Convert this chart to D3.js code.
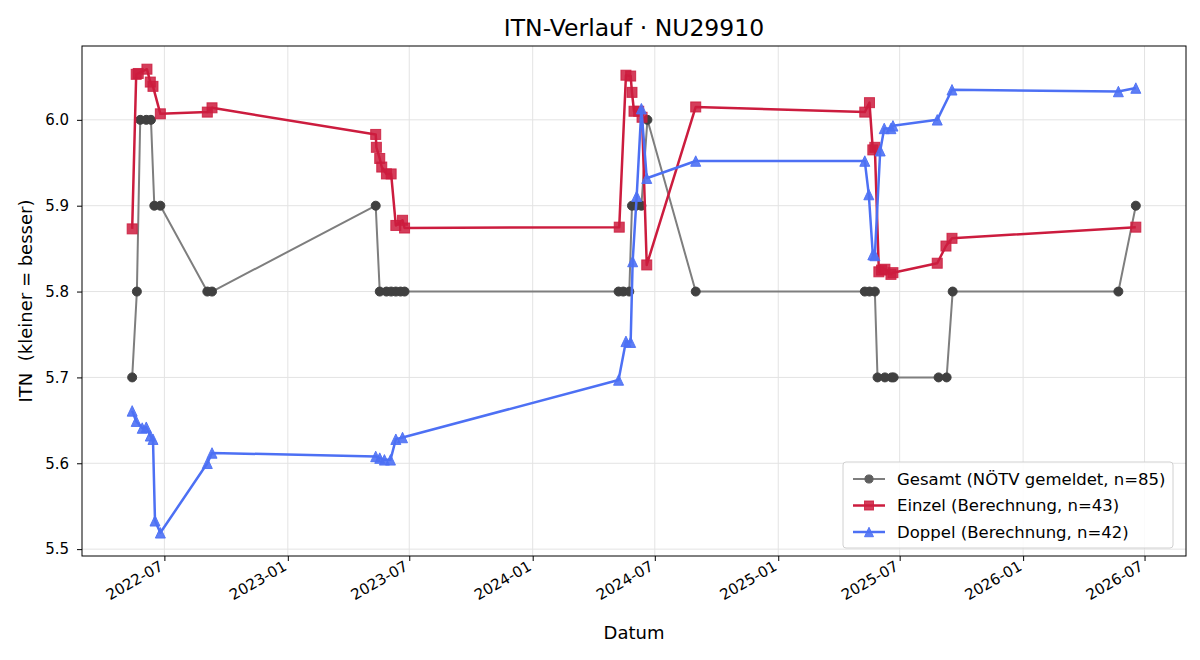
<!DOCTYPE html>
<html>
<head>
<meta charset="utf-8">
<script src="https://cdn.jsdelivr.net/npm/d3@7"></script>
<style>
  body { margin: 0; background: #fff; }
  svg, svg text { font-family: "DejaVu Sans", sans-serif; }
</style>
</head>
<body>
<div id="chart"></div>
<script>
// Data
const gesamtDates = ["2022-05-14","2022-05-21","2022-05-26","2022-06-04","2022-06-11","2022-06-16","2022-06-25",
  "2022-09-03","2022-09-10","2023-05-12","2023-05-18","2023-05-28","2023-06-04","2023-06-11","2023-06-18","2023-06-24",
  "2024-05-08","2024-05-15","2024-05-24","2024-05-28","2024-06-03","2024-06-11","2024-06-20","2024-08-31",
  "2025-05-10","2025-05-17","2025-05-25","2025-05-29","2025-06-09","2025-06-19","2025-06-22","2025-08-28",
  "2025-09-09","2025-09-18","2026-05-23","2026-06-18"];
const gesamtValues = [5.7,5.8,6.0,6.0,6.0,5.9,5.9,
  5.8,5.8,5.9,5.8,5.8,5.8,5.8,5.8,5.8,
  5.8,5.8,5.8,5.9,5.9,5.9,6.0,5.8,
  5.8,5.8,5.8,5.7,5.7,5.7,5.7,5.7,
  5.7,5.8,5.8,5.9];

const einzelDates = ["2022-05-14","2022-05-20","2022-05-23","2022-06-05","2022-06-10","2022-06-14","2022-06-25",
  "2022-09-03","2022-09-10","2023-05-12","2023-05-13","2023-05-18","2023-05-21","2023-05-28","2023-06-04",
  "2023-06-11","2023-06-21","2023-06-24","2024-05-09","2024-05-19","2024-05-26","2024-05-28","2024-05-31",
  "2024-06-07","2024-06-12","2024-06-19","2024-08-31","2025-05-10","2025-05-17","2025-05-22","2025-05-25",
  "2025-05-31","2025-06-04","2025-06-09","2025-06-18","2025-06-21","2025-08-26","2025-09-08","2025-09-17",
  "2026-06-18"];
const einzelValues = [5.873,6.053,6.054,6.059,6.044,6.039,6.007,
  6.009,6.014,5.983,5.968,5.955,5.945,5.937,5.937,
  5.877,5.883,5.874,5.875,6.052,6.051,6.032,6.010,
  6.010,6.003,5.831,6.015,6.009,6.020,5.965,5.968,
  5.823,5.825,5.826,5.820,5.822,5.833,5.853,5.862,
  5.875];

const doppelDates = ["2022-05-14","2022-05-20","2022-05-29","2022-06-04","2022-06-10","2022-06-14","2022-06-17",
  "2022-06-25","2022-09-03","2022-09-10","2023-05-12","2023-05-18","2023-05-25","2023-06-03","2023-06-11",
  "2023-06-21","2024-05-08","2024-05-19","2024-05-26","2024-05-29","2024-06-04","2024-06-11","2024-06-19",
  "2024-08-31","2025-05-10","2025-05-16","2025-05-22","2025-05-25","2025-06-02","2025-06-08","2025-06-18",
  "2025-06-21","2025-08-26","2025-09-17","2026-05-23","2026-06-18"];
const doppelValues = [5.661,5.649,5.641,5.642,5.632,5.628,5.533,
  5.519,5.600,5.612,5.608,5.606,5.604,5.604,5.628,
  5.630,5.697,5.742,5.741,5.835,5.911,6.013,5.932,
  5.952,5.952,5.913,5.843,5.842,5.964,5.990,5.990,
  5.993,6.000,6.035,6.033,6.037];

const seriesNames = ["Gesamt (NÖTV gemeldet, n=85)", "Einzel (Berechnung, n=43)", "Doppel (Berechnung, n=42)"];
const yTicks = [5.5, 5.6, 5.7, 5.8, 5.9, 6.0];
const xTickDates = ["2022-07-01","2023-01-01","2023-07-01","2024-01-01","2024-07-01","2025-01-01","2025-07-01","2026-01-01","2026-07-01"];

const W = 1200, H = 660;
const margin = {top: 46, right: 14, bottom: 104, left: 82};
const width = W - margin.left - margin.right;
const height = H - margin.top - margin.bottom;

const parse = d3.timeParse("%Y-%m-%d");
const zip = (ds, vs) => ds.map((d, i) => ({date: parse(d), value: vs[i]}));

const series = [
  {name: seriesNames[0], data: zip(gesamtDates, gesamtValues), line: "#7e7e7e", mark: "#404040", legMark: "#5e5e5e", lw: 2, shape: "circle", opacity: 1},
  {name: seriesNames[1], data: zip(einzelDates, einzelValues), line: "#cc1c3e", mark: "#cc1c3e", legMark: "#cc1c3e", lw: 2.5, shape: "square", opacity: 0.85},
  {name: seriesNames[2], data: zip(doppelDates, doppelValues), line: "#4d70f4", mark: "#4d70f4", legMark: "#4d70f4", lw: 2.5, shape: "triangle", opacity: 0.9}
];

const all = series.flatMap(s => s.data);
const [tMin, tMax] = d3.extent(all, d => d.date);
const [vMin, vMax] = d3.extent(all, d => d.value);
const tPad = (tMax - tMin) * 0.05, vPad = (vMax - vMin) * 0.05;

const x = d3.scaleTime()
  .domain([new Date(+tMin - tPad), new Date(+tMax + tPad)])
  .range([0, width]);
const y = d3.scaleLinear()
  .domain([vMin - vPad, vMax + vPad])
  .range([height, 0]);

const svg = d3.select("#chart").append("svg")
  .attr("width", W).attr("height", H);

svg.append("text")
  .attr("x", margin.left + width / 2).attr("y", 36)
  .attr("text-anchor", "middle")
  .style("font-size", "23.5px")
  .text("ITN-Verlauf · NU29910");

const g = svg.append("g")
  .attr("transform", `translate(${margin.left},${margin.top})`);

// grid
const xt = xTickDates.map(parse);
g.append("g").selectAll("line").data(xt).join("line")
  .attr("x1", d => x(d)).attr("x2", d => x(d))
  .attr("y1", 0).attr("y2", height)
  .attr("stroke", "#e3e3e3").attr("stroke-width", 1);
g.append("g").selectAll("line").data(yTicks).join("line")
  .attr("x1", 0).attr("x2", width)
  .attr("y1", d => y(d)).attr("y2", d => y(d))
  .attr("stroke", "#e3e3e3").attr("stroke-width", 1);

// axes
const xAxis = g.append("g")
  .attr("transform", `translate(0,${height})`)
  .call(d3.axisBottom(x).tickValues(xt).tickFormat(d3.timeFormat("%Y-%m")).tickSize(5).tickPadding(4));
xAxis.selectAll("text")
  .attr("text-anchor", "end")
  .attr("x", 0).attr("y", 0)
  .attr("dy", "0.71em")
  .attr("transform", "translate(-6,4) rotate(-30)");

const yAxis = g.append("g")
  .call(d3.axisLeft(y).tickValues(yTicks).tickFormat(d3.format(".1f")).tickSize(5).tickPadding(8));

[xAxis, yAxis].forEach(a => {
  a.attr("font-family", null).attr("font-size", null);
  a.select(".domain").remove();
  a.selectAll("line").attr("stroke", "#000");
  a.selectAll("text").attr("fill", "#000").style("font-size", "15px");
});

g.append("rect")
  .attr("width", width).attr("height", height)
  .attr("fill", "none").attr("stroke", "#000").attr("stroke-width", 1);

svg.append("text")
  .attr("x", margin.left + width / 2).attr("y", 639)
  .attr("text-anchor", "middle")
  .style("font-size", "18px")
  .text("Datum");

svg.append("text")
  .attr("transform", `translate(32,${margin.top + height / 2}) rotate(-90)`)
  .attr("text-anchor", "middle")
  .style("font-size", "18px")
  .style("white-space", "pre")
  .text("ITN  (kleiner = besser)");

// markers
function marker(sel, color, s, size) {
  if (s.shape === "circle") {
    sel.append("circle").attr("r", size * 0.45);
  } else if (s.shape === "square") {
    sel.append("rect").attr("x", -size / 2).attr("y", -size / 2).attr("width", size).attr("height", size);
  } else {
    const h = size * 1.05;
    sel.append("path").attr("d", `M0,${-h / 2}L${size / 2},${h / 2}L${-size / 2},${h / 2}Z`);
  }
  sel.selectAll("*")
    .attr("fill", color).attr("fill-opacity", s.opacity)
    .attr("stroke", color).attr("stroke-opacity", s.opacity).attr("stroke-width", 1);
}

const line = d3.line().x(d => x(d.date)).y(d => y(d.value));

series.forEach(s => {
  g.append("path")
    .datum(s.data)
    .attr("fill", "none")
    .attr("stroke", s.line)
    .attr("stroke-width", s.lw)
    .attr("stroke-linejoin", "round")
    .attr("d", line);
  g.append("g").selectAll("g").data(s.data).join("g")
    .attr("transform", d => `translate(${x(d.date)},${y(d.value)})`)
    .each(function() { marker(d3.select(this), s.mark, s, 10); });
});

// legend
const lg = g.append("g").attr("transform", `translate(${width - 343},${height - 94})`);
lg.append("rect")
  .attr("width", 330).attr("height", 86).attr("rx", 3)
  .attr("fill", "#fff").attr("fill-opacity", 0.85)
  .attr("stroke", "#d0d0d0");
series.forEach((s, i) => {
  const row = lg.append("g").attr("transform", `translate(0,${17 + i * 26.5})`);
  row.append("line").attr("x1", 10).attr("x2", 42)
    .attr("stroke", s.line).attr("stroke-width", s.lw);
  const m = row.append("g").attr("transform", "translate(26,0)");
  marker(m, s.legMark, s, 9);
  row.append("text").attr("x", 54).attr("dy", "0.35em")
    .style("font-size", "16.5px")
    .text(s.name);
});
</script>
</body>
</html>
